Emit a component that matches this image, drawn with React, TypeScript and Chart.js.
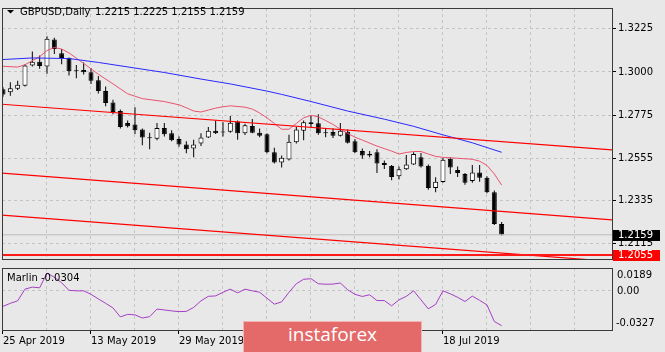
import React, { useEffect, useRef } from 'react';
import { Chart, registerables } from 'chart.js';

Chart.register(...registerables);

// ---------- data ----------
const symbolTitle = 'GBPUSD,Daily';
const lastBarText = ['1.2215', '1.2225', '1.2155', '1.2159'];

const dateTickIndex = [0, 12, 24, 36, 48, 60];
const dateTickLabels = ['25 Apr 2019', '13 May 2019', '29 May 2019', '14 Jun 2019', '2 Jul 2019', '18 Jul 2019'];
const gridBarIndex = [0, 6, 12, 18, 24, 30, 36, 42, 48, 54, 60, 66, 72, 78];
const priceTicks = [1.3225, 1.3, 1.2775, 1.2555, 1.2335, 1.2115];
const marlinTicks = [0.0189, 0, -0.0327];

const opens = [
  1.2911, 1.2895, 1.2913, 1.2929, 1.3033, 1.3053, 1.3028, 1.3167, 1.3097, 1.3072,
  1.3006, 1.3010, 1.2998, 1.2957, 1.2901, 1.2842, 1.2798, 1.2736, 1.2728, 1.2703,
  1.2659, 1.2655, 1.2711, 1.2683, 1.2654, 1.2625, 1.2604, 1.2630, 1.2661, 1.2696,
  1.2688, 1.2691, 1.2744, 1.2683, 1.2721, 1.2686, 1.2678, 1.2585, 1.2532, 1.2548,
  1.2637, 1.2696, 1.2731, 1.2735, 1.2685, 1.2690, 1.2670, 1.2691, 1.2642, 1.2592,
  1.2576, 1.2585, 1.2530, 1.2514, 1.2461, 1.2497, 1.2522, 1.2560, 1.2516, 1.2400,
  1.2432, 1.2552, 1.2494, 1.2473, 1.2437, 1.2481, 1.2453, 1.2379, 1.2215,
];
const highs = [
  1.2921, 1.2946, 1.2955, 1.3040, 1.3105, 1.3085, 1.3184, 1.3176, 1.3118, 1.3074,
  1.3036, 1.3048, 1.3020, 1.2979, 1.2925, 1.2856, 1.2806, 1.2749, 1.2818, 1.2708,
  1.2686, 1.2736, 1.2736, 1.2699, 1.2666, 1.2642, 1.2650, 1.2683, 1.2716, 1.2749,
  1.2740, 1.2773, 1.2749, 1.2732, 1.2757, 1.2708, 1.2683, 1.2609, 1.2568, 1.2675,
  1.2716, 1.2749, 1.2773, 1.2782, 1.2708, 1.2708, 1.2736, 1.2703, 1.2654, 1.2604,
  1.2592, 1.2601, 1.2543, 1.2519, 1.2511, 1.2571, 1.2585, 1.2581, 1.2522, 1.2456,
  1.2555, 1.2560, 1.2511, 1.2478, 1.2519, 1.2519, 1.2461, 1.2388, 1.2225,
];
const lows = [
  1.2872, 1.2877, 1.2906, 1.2925, 1.3028, 1.3016, 1.2990, 1.3093, 1.3039, 1.2982,
  1.2967, 1.2987, 1.2937, 1.2888, 1.2823, 1.2782, 1.2708, 1.2713, 1.2680, 1.2621,
  1.2601, 1.2647, 1.2666, 1.2642, 1.2614, 1.2580, 1.2560, 1.2617, 1.2659, 1.2680,
  1.2666, 1.2686, 1.2650, 1.2674, 1.2683, 1.2663, 1.2580, 1.2527, 1.2506, 1.2543,
  1.2630, 1.2647, 1.2716, 1.2675, 1.2663, 1.2659, 1.2666, 1.2630, 1.2581, 1.2552,
  1.2560, 1.2478, 1.2499, 1.2440, 1.2445, 1.2494, 1.2519, 1.2506, 1.2392, 1.2379,
  1.2428, 1.2473, 1.2457, 1.2417, 1.2428, 1.2433, 1.2374, 1.2210, 1.2155,
];
const closes = [
  1.2884, 1.2916, 1.2934, 1.3033, 1.3053, 1.3031, 1.3171, 1.3118, 1.3072, 1.3003,
  1.3004, 1.2998, 1.2954, 1.2901, 1.2839, 1.2793, 1.2716, 1.2720, 1.2699, 1.2661,
  1.2658, 1.2711, 1.2678, 1.2647, 1.2625, 1.2601, 1.2625, 1.2661, 1.2696, 1.2683,
  1.2687, 1.2737, 1.2683, 1.2724, 1.2686, 1.2671, 1.2585, 1.2532, 1.2557, 1.2639,
  1.2703, 1.2740, 1.2740, 1.2683, 1.2683, 1.2670, 1.2696, 1.2634, 1.2585, 1.2568,
  1.2568, 1.2527, 1.2519, 1.2457, 1.2497, 1.2522, 1.2576, 1.2511, 1.2400, 1.2433,
  1.2547, 1.2506, 1.2478, 1.2428, 1.2481, 1.2453, 1.2379, 1.2215, 1.2159,
];

const blueMaIndex = [0, 4, 9, 13, 18, 22, 27, 31, 36, 38, 42, 47, 52, 56, 60, 64, 68];
const blueMaValues = [1.3064, 1.3072, 1.3069, 1.3049, 1.3020, 1.2997, 1.2963, 1.2938, 1.2901, 1.2884, 1.2847, 1.2798, 1.2756, 1.2719, 1.2675, 1.2634, 1.2585];

const pinkMaIndex = [0, 2, 3, 5, 6, 7, 8, 9, 11, 13, 15, 17, 19, 21, 22, 24, 25, 26, 27, 28, 29, 30, 31, 33, 34, 35, 36, 37, 38, 39, 40, 41, 42, 43, 44, 45, 46, 47, 48, 49, 51, 53, 54, 55, 56, 57, 58, 59, 60, 62, 64, 65, 66, 67, 68];
const pinkMaValues = [1.3029, 1.3025, 1.3037, 1.3079, 1.3110, 1.3126, 1.3118, 1.3098, 1.3044, 1.2988, 1.2938, 1.2887, 1.2862, 1.2852, 1.2847, 1.2830, 1.2815, 1.2798, 1.2793, 1.2803, 1.2813, 1.2820, 1.2825, 1.2818, 1.2808, 1.2788, 1.2763, 1.2734, 1.2704, 1.2704, 1.2734, 1.2763, 1.2776, 1.2768, 1.2749, 1.2729, 1.2704, 1.2683, 1.2663, 1.2648, 1.2617, 1.2591, 1.2576, 1.2584, 1.2589, 1.2589, 1.2576, 1.2564, 1.2559, 1.2554, 1.2549, 1.2539, 1.2517, 1.2473, 1.2416];

const trendIndex = [-1, 84];
const trendUpper = [1.28355, 1.25949];
const trendMiddle = [1.24794, 1.22334];
const trendLower = [1.22626, 1.20186];
const levelPrice = 1.2055;
const bidPrice = 1.2159;

const marlinValues = [
  -0.0130, -0.0105, -0.0084, 0.0013, 0.0030, 0.0024, 0.0147, 0.0112, 0.0066, 0.0003,
  -0.0001, -0.0001, -0.0030, -0.0068, -0.0105, -0.0143, -0.0218, -0.0197, -0.0201, -0.0227,
  -0.0216, -0.0153, -0.0160, -0.0168, -0.0174, -0.0172, -0.0139, -0.0084, -0.0047, -0.0043,
  -0.0013, 0.0013, -0.0018, 0.0013, -0.0001, -0.0013, -0.0062, -0.0112, -0.0093, -0.0013,
  0.0058, 0.0095, 0.0100, 0.0058, 0.0054, 0.0055, 0.0064, 0.0008, -0.0030, -0.0048,
  -0.0034, -0.0082, -0.0082, -0.0126, -0.0076, -0.0047, -0.0001, -0.0076, -0.0151, -0.0114,
  -0.0001, -0.0026, -0.0055, -0.0090, -0.0045, -0.0080, -0.0118, -0.0256, -0.0291,
];
const marlinLabel = 'Marlin -0.0304';

// ---------- layout / style ----------
const X_MIN = -0.136;
const X_MAX = 83.05;
const PRICE_MIN = 1.2034;
const PRICE_MAX = 1.333;
const MARLIN_MIN = -0.0327;
const MARLIN_MAX = 0.0189;
const BG = '#e8e8e8';
const GRID = '#c4c4c4';
const FRAME = '#3a3a3a';
const FONT = '10px "DejaVu Sans"';
const CLEAR = 'rgba(0,0,0,0)';

Chart.defaults.font.family = '"DejaVu Sans"';
Chart.defaults.font.size = 10;
Chart.defaults.color = '#000';

const pts = (xs: number[], ys: number[]) => xs.map((x, i) => ({ x, y: ys[i] }));

const lineDs = (data: any[], color: string, width: number, order: number) => ({
  type: 'line' as const,
  data,
  borderColor: color,
  borderWidth: width,
  pointRadius: 0,
  tension: 0,
  clip: 0,
  order,
});

const mainPlugin = {
  id: 'mainDecor',
  afterDraw(chart: any) {
    const { ctx, chartArea: ca, scales } = chart;
    ctx.save();
    ctx.strokeStyle = FRAME;
    ctx.lineWidth = 1;
    ctx.strokeRect(ca.left + 0.5, ca.top + 0.5, ca.right - ca.left, ca.bottom - ca.top);
    // title
    ctx.fillStyle = '#000';
    ctx.beginPath();
    ctx.moveTo(7, 10);
    ctx.lineTo(14, 10);
    ctx.lineTo(10.5, 13.5);
    ctx.closePath();
    ctx.fill();
    ctx.font = FONT;
    ctx.textBaseline = 'middle';
    ctx.textAlign = 'left';
    ctx.fillText(symbolTitle, 20, 12);
    ctx.fillText(lastBarText.join(' '), 95, 12);
    // price boxes
    const y = scales.y;
    const box = (price: number, bg: string) => {
      const py = Math.round(y.getPixelForValue(price));
      ctx.fillStyle = bg;
      ctx.fillRect(613, py - 5, 47, 11);
      ctx.fillStyle = '#fff';
      ctx.fillText(price.toFixed(4), 618, py + 0.5);
    };
    box(bidPrice, '#000');
    box(levelPrice, '#ff0000');
    ctx.restore();
  },
};

const subPlugin = {
  id: 'subDecor',
  afterDraw(chart: any) {
    const { ctx, chartArea: ca, scales } = chart;
    ctx.save();
    ctx.strokeStyle = FRAME;
    ctx.lineWidth = 1;
    ctx.strokeRect(ca.left + 0.5, ca.top + 0.5, ca.right - ca.left, ca.bottom - ca.top);
    ctx.font = FONT;
    ctx.fillStyle = '#000';
    ctx.textAlign = 'left';
    ctx.textBaseline = 'middle';
    const y = scales.y;
    ctx.fillText(marlinTicks[0].toFixed(4), 617, y.getPixelForValue(marlinTicks[0]) + 7.7);
    ctx.fillText(marlinTicks[1].toFixed(2), 617, y.getPixelForValue(marlinTicks[1]) + 0.5);
    ctx.fillText(marlinTicks[2].toFixed(4), 616, y.getPixelForValue(marlinTicks[2]) - 6.7);
    ctx.fillText(marlinLabel, 7, ca.top + 10);
    ctx.restore();
  },
};

function mainConfig(): any {
  return {
    type: 'bar',
    data: {
      datasets: [
        lineDs(pts(trendIndex, [bidPrice, bidPrice]), '#bdbdbd', 1, 4),
        lineDs(pts(trendIndex, [levelPrice, levelPrice]), '#ff1a1a', 2, 1),
        lineDs(pts(trendIndex, trendUpper), '#ff0000', 1.2, 1),
        lineDs(pts(trendIndex, trendMiddle), '#ff0000', 1.2, 1),
        lineDs(pts(trendIndex, trendLower), '#ff0000', 1.2, 1),
        lineDs(pts(blueMaIndex, blueMaValues), '#2828ff', 1, 2),
        lineDs(pts(pinkMaIndex, pinkMaValues), '#e8546f', 1, 2),
        {
          type: 'bar',
          data: opens.map((o, i) => ({ x: i, y: [o, closes[i]] })),
          barThickness: 5,
          grouped: false,
          minBarLength: 1,
          inflateAmount: 0,
          borderSkipped: false,
          borderWidth: 1,
          borderColor: '#000',
          backgroundColor: (c: any) => (closes[c.dataIndex] >= opens[c.dataIndex] ? '#ffffff' : '#000000'),
          order: 5,
        },
        {
          type: 'bar',
          data: highs.map((h, i) => ({ x: i, y: [lows[i], h] })),
          barThickness: 1,
          grouped: false,
          inflateAmount: 0,
          borderWidth: 0,
          backgroundColor: '#000',
          order: 6,
        },
      ],
    },
    options: {
      animation: false,
      responsive: false,
      maintainAspectRatio: false,
      layout: { padding: { left: 2, top: 2, right: 0, bottom: 2 } },
      plugins: { legend: { display: false }, tooltip: { enabled: false } },
      scales: {
        x: {
          type: 'linear',
          min: X_MIN,
          max: X_MAX,
          offset: false,
          afterBuildTicks: (s: any) => {
            s.ticks = gridBarIndex.map((v) => ({ value: v }));
          },
          afterFit: (s: any) => {
            s.height = 0;
          },
          ticks: { display: false },
          grid: { color: GRID, drawTicks: false, offset: false },
          border: { display: false, dash: [3, 3] },
        },
        y: {
          position: 'right',
          min: PRICE_MIN,
          max: PRICE_MAX,
          afterBuildTicks: (s: any) => {
            s.ticks = priceTicks.map((v) => ({ value: v }));
          },
          afterFit: (s: any) => {
            s.width = 53;
          },
          ticks: {
            padding: 2,
            color: '#000',
            font: { family: '"DejaVu Sans"', size: 10 },
            autoSkip: false,
            callback: (v: any) => Number(v).toFixed(4),
          },
          grid: { color: GRID, tickColor: '#000', tickLength: 4, tickBorderDash: [] },
          border: { display: false, dash: [3, 3] },
        },
      },
    },
    plugins: [mainPlugin],
  };
}

function subConfig(): any {
  return {
    type: 'line',
    data: {
      datasets: [lineDs(marlinValues.map((v, i) => ({ x: i, y: v })), '#a43ec4', 1, 1)],
    },
    options: {
      animation: false,
      responsive: false,
      maintainAspectRatio: false,
      layout: { padding: { left: 2, top: 1, right: 0, bottom: 0 } },
      plugins: { legend: { display: false }, tooltip: { enabled: false } },
      scales: {
        x: {
          type: 'linear',
          min: X_MIN,
          max: X_MAX,
          offset: false,
          afterBuildTicks: (s: any) => {
            s.ticks = gridBarIndex.map((v) => ({ value: v }));
          },
          afterFit: (s: any) => {
            s.height = 22;
          },
          ticks: {
            autoSkip: false,
            maxRotation: 0,
            minRotation: 0,
            align: 'start',
            padding: 1,
            color: '#000',
            font: { family: '"DejaVu Sans"', size: 10 },
            callback: (v: any) => {
              const k = dateTickIndex.indexOf(Number(v));
              return k >= 0 ? dateTickLabels[k] : '';
            },
          },
          grid: {
            color: GRID,
            tickLength: 4,
            tickBorderDash: [],
            tickColor: (c: any) => (c.tick && dateTickIndex.includes(c.tick.value) ? '#000' : CLEAR),
          },
          border: { display: false, dash: [3, 3] },
        },
        y: {
          position: 'right',
          min: MARLIN_MIN,
          max: MARLIN_MAX,
          afterBuildTicks: (s: any) => {
            s.ticks = marlinTicks.map((v) => ({ value: v }));
          },
          afterFit: (s: any) => {
            s.width = 53;
          },
          ticks: { display: false },
          grid: {
            color: (c: any) => (c.tick && c.tick.value === 0 ? GRID : CLEAR),
            tickColor: CLEAR,
            tickLength: 4,
          },
          border: { display: false, dash: [3, 3] },
        },
      },
    },
    plugins: [subPlugin],
  };
}

export default function App() {
  const mainRef = useRef<HTMLCanvasElement>(null);
  const subRef = useRef<HTMLCanvasElement>(null);

  useEffect(() => {
    const main = new Chart(mainRef.current as HTMLCanvasElement, mainConfig());
    const sub = new Chart(subRef.current as HTMLCanvasElement, subConfig());
    return () => {
      main.destroy();
      sub.destroy();
    };
  }, []);

  return (
    <div
      style={{
        position: 'absolute',
        left: 0,
        top: 0,
        width: 665,
        height: 352,
        background: BG,
        overflow: 'hidden',
      }}
    >
      <canvas
        ref={mainRef}
        width={665}
        height={267}
        style={{ position: 'absolute', left: 0, top: 0, width: 665, height: 267 }}
      />
      <canvas
        ref={subRef}
        width={665}
        height={85}
        style={{ position: 'absolute', left: 0, top: 267, width: 665, height: 85 }}
      />
      <div
        style={{
          position: 'absolute',
          left: 243,
          top: 321,
          width: 179,
          height: 40,
          boxSizing: 'border-box',
          background: '#e46a6a',
          border: '1px solid #f2b3b3',
          color: '#ffffff',
          fontFamily: '"Open Sans", sans-serif',
          fontSize: 19,
          lineHeight: '25px',
          textAlign: 'center',
        }}
      >
        instaforex
      </div>
    </div>
  );
}
